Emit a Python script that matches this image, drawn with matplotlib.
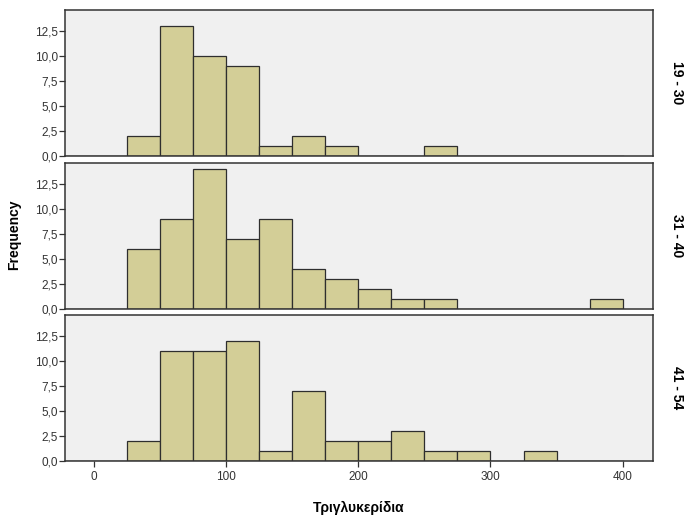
import matplotlib
matplotlib.use('Agg')
import matplotlib.pyplot as plt
from matplotlib.ticker import FuncFormatter
import numpy as np

# histogram bins (width 25) and counts per age group
bin_edges = [25, 50, 75, 100, 125, 150, 175, 200, 225, 250, 275, 300, 325, 350, 375, 400]
age_groups = ['19 - 30', '31 - 40', '41 - 54']
counts_19_30 = [2, 13, 10, 9, 1, 2, 1, 0, 0, 1, 0, 0, 0, 0, 0]
counts_31_40 = [6, 9, 14, 7, 9, 4, 3, 2, 1, 1, 0, 0, 0, 0, 1]
counts_41_54 = [2, 11, 11, 12, 1, 7, 2, 2, 3, 1, 1, 0, 1, 0, 0]
y_ticks = [0, 2.5, 5, 7.5, 10, 12.5]
x_ticks = [0, 100, 200, 300, 400]

plt.rcParams['font.family'] = ['Liberation Sans', 'DejaVu Sans']

fig = plt.figure(figsize=(6.89, 5.16), dpi=100)
fig.patch.set_facecolor('white')

left, width, height = 0.0943, 0.8535, 0.2826
bottoms = [0.6977, 0.4012, 0.1066]
all_counts = [counts_19_30, counts_31_40, counts_41_54]

comma_fmt = FuncFormatter(lambda v, pos: f'{v:.1f}'.replace('.', ','))
edges = np.array(bin_edges)

for i, (label, counts) in enumerate(zip(age_groups, all_counts)):
    ax = fig.add_axes([left, bottoms[i], width, height])
    ax.set_facecolor('#f0f0f0')
    nz = [j for j, c in enumerate(counts) if c > 0]
    ax.bar(edges[:-1][nz], np.array(counts)[nz], width=25, align='edge',
           color='#d3ce97', edgecolor='#2e2e2e', linewidth=0.9, zorder=2)
    ax.plot([-22, 400], [0, 0], color='#333333', linewidth=1.0, zorder=3)
    ax.set_xlim(-22, 423)
    ax.set_ylim(0, 14.6)
    ax.set_yticks(y_ticks)
    ax.yaxis.set_major_formatter(comma_fmt)
    ax.set_xticks(x_ticks)
    for s in ax.spines.values():
        s.set_color('#333333')
        s.set_linewidth(1.1)
    ax.tick_params(axis='y', direction='out', length=4, width=0.9,
                   color='#333333', labelsize=8.5, labelcolor='#333333', pad=1)
    if i < 2:
        ax.tick_params(axis='x', bottom=False, labelbottom=False)
    else:
        ax.tick_params(axis='x', direction='out', length=4, width=0.9,
                       color='#333333', labelsize=8.5, labelcolor='#333333', pad=3)
        ax.set_xlabel('Τριγλυκερίδια', fontsize=10, fontweight='bold', labelpad=13)
    ax.text(1.04, 0.5, label, transform=ax.transAxes, rotation=270,
            ha='center', va='center', fontsize=10, fontweight='bold')

fig.text(0.021, 0.545, 'Frequency', rotation=90, ha='center', va='center',
         fontsize=10, fontweight='bold')

fig.savefig('out.png', dpi=100)
